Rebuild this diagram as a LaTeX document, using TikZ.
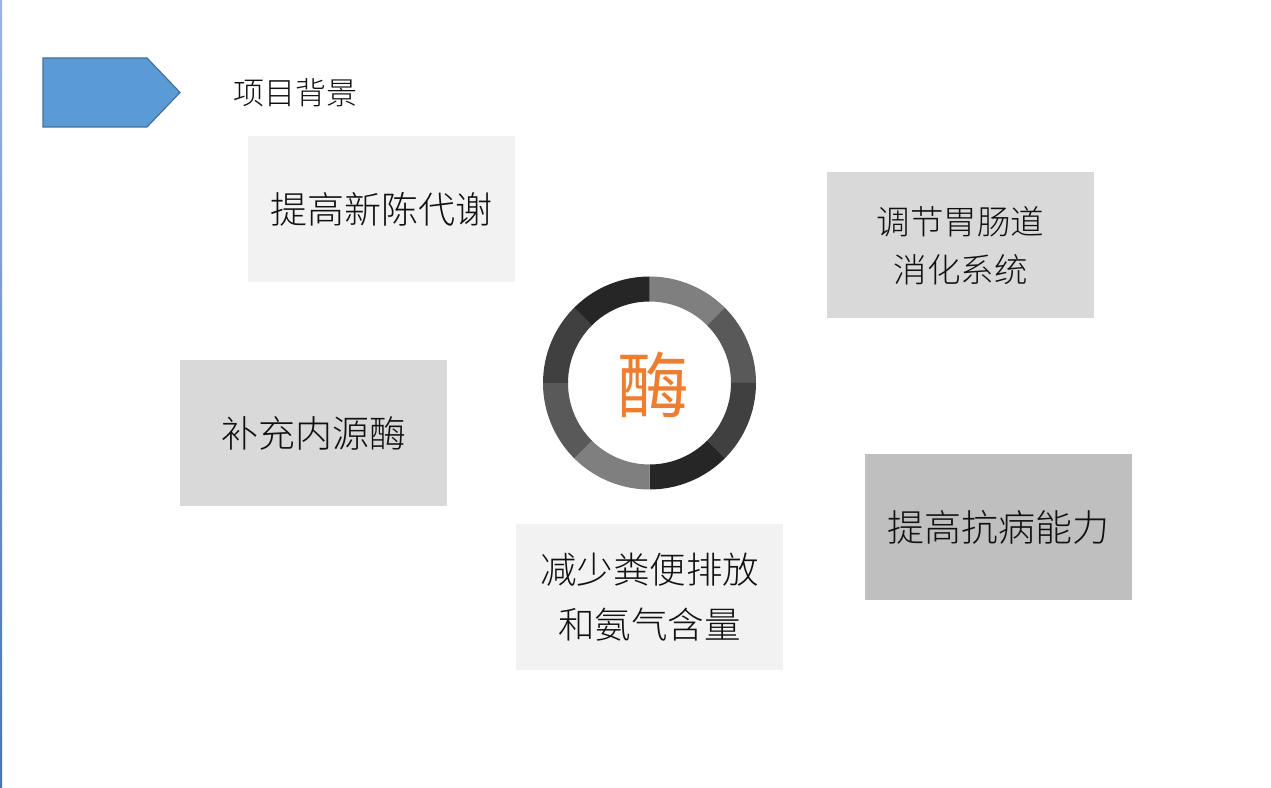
\documentclass[tikz,border=0pt]{standalone}
\usepackage{fontspec}
\newfontfamily\cjk{Noto Sans CJK SC Light}
\newfontfamily\cjkreg{Noto Sans CJK SC}
\definecolor{arrowblue}{HTML}{5B9BD5}
\definecolor{arrowedge}{HTML}{41719C}
\definecolor{boxlight}{HTML}{F2F2F2}
\definecolor{boxmid}{HTML}{D9D9D9}
\definecolor{boxdark}{HTML}{BFBFBF}
\definecolor{segA}{HTML}{7F7F7F}
\definecolor{segB}{HTML}{595959}
\definecolor{segC}{HTML}{404040}
\definecolor{segD}{HTML}{262626}
\definecolor{enzyme}{HTML}{ED7D31}
\definecolor{txt}{HTML}{111111}
\definecolor{linetop}{HTML}{9DB5DF}
\definecolor{linebot}{HTML}{4A72B5}
\tikzset{
  infobox/.style={minimum width=267pt, minimum height=146pt, inner sep=0pt,
    align=center, text=txt, font=\cjk\fontsize{37}{55}\selectfont},
}
\begin{document}
\begin{tikzpicture}[x=1pt,y=1pt]
\useasboundingbox (0,0) rectangle (1271,787);
\fill[white] (0,0) rectangle (1271,787);
% left edge line
\shade[top color=linetop, bottom color=linebot] (0,0) rectangle (2.2,787);
% header arrow
\draw[fill=arrowblue, draw=arrowedge, line width=1.2pt]
  (43,729) -- (147,729) -- (180,694.5) -- (147,660) -- (43,660) -- cycle;
\node[font=\cjk\fontsize{31}{31}\selectfont, text=txt, anchor=center] (title) at (295,694) {项目背景};
% boxes
\node[infobox, fill=boxlight] (b1) at (381.5,578) {提高新陈代谢};
\node[infobox, fill=boxmid, font=\cjk\fontsize{33.5}{47}\selectfont] (b2) at (960.5,541.5) {\raisebox{3pt}{调节胃肠道}\\[-2pt]消化系统};
\node[infobox, fill=boxmid] (b3) at (313.5,354) {补充内源酶};
\node[infobox, fill=boxdark] (b4) at (998.5,260) {提高抗病能力};
\node[infobox, fill=boxlight, font=\cjk\fontsize{36.5}{55}\selectfont] (b5) at (649.5,189.5) {减少粪便排放\\和氨气含量};
% ring
\coordinate (c) at (649.5,404);
\foreach \a/\b/\col in {90/45/segA, 45/0/segB, 0/-45/segC, -45/-90/segD,
                        -90/-135/segA, -135/-180/segB, 180/135/segC, 135/90/segD}{
  \fill[\col] ([shift={(\a:106.5pt)}]c) arc[start angle=\a, end angle=\b, radius=106.5pt]
    -- ([shift={(\b:81.5pt)}]c) arc[start angle=\b, end angle=\a, radius=81.5pt] -- cycle;
}
\node[font=\cjkreg\fontsize{72}{72}\selectfont, text=enzyme] (mei) at (653,402) {酶};
\end{tikzpicture}
\end{document}
